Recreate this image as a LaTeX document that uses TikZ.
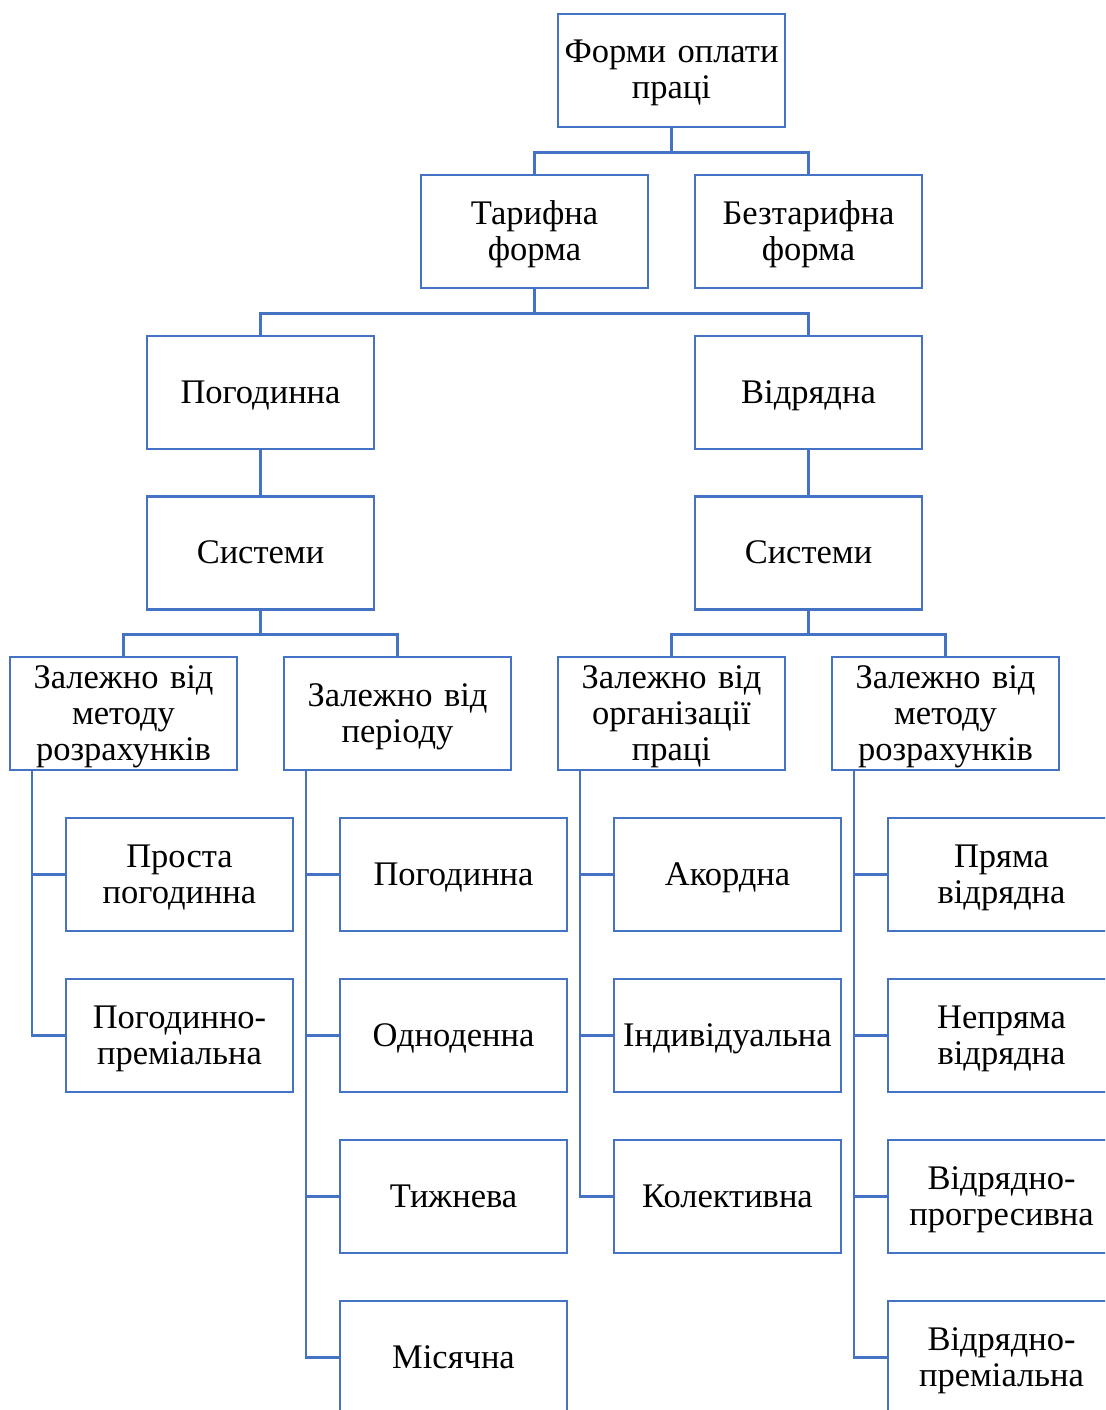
\documentclass[tikz,border=0pt]{standalone}
\usepackage{fontspec}
\setmainfont{Liberation Serif}
\definecolor{ob}{HTML}{4472C4}
\begin{document}
\begin{tikzpicture}[x=1pt,y=-1pt,
  box/.style={draw=ob, line width=2.5pt, fill=white, minimum width=227pt, minimum height=113pt,
    text width=225pt, align=center, inner sep=0pt, font=\fontsize{34.5}{36}\selectfont, text=black,
    execute at begin node={\rule{0pt}{28.75pt}},
    execute at end node={\rule[-7.75pt]{0pt}{0pt}}},
  conn/.style={draw=ob, line width=2.5pt}]
\useasboundingbox (0,0) rectangle (1105,1410);
\clip (0,0) rectangle (1105,1410);
% level 1-4
\node[box] (root) at (671.5,70.5) {Форми оплати\\праці};
\node[box] (tar) at (534.5,231.5) {Тарифна\\форма};
\node[box] (bez) at (808.5,231.5) {Безтарифна\\форма};
\node[box] (pog) at (260.5,392.5) {Погодинна};
\node[box] (vid) at (808.5,392.5) {Відрядна};
\node[box] (sys1) at (260.5,553) {Системи};
\node[box] (sys2) at (808.5,553) {Системи};
% level 5
\node[box] (z1) at (123.5,713.5) {Залежно від\\методу\\розрахунків};
\node[box] (z2) at (397.5,713.5) {Залежно від\\періоду};
\node[box] (z3) at (671.5,713.5) {Залежно від\\організації\\праці};
\node[box] (z4) at (945.5,713.5) {Залежно від\\методу\\розрахунків};
% children
\node[box] (a1) at (179.5,874.5) {Проста\\погодинна};
\node[box] (a2) at (179.5,1035.5) {Погодинно-\\преміальна};
\node[box] (b1) at (453.5,874.5) {Погодинна};
\node[box] (b2) at (453.5,1035.5) {Одноденна};
\node[box] (b3) at (453.5,1196.5) {Тижнева};
\node[box] (b4) at (453.5,1357.5) {Місячна};
\node[box] (c1) at (727.5,874.5) {Акордна};
\node[box] (c2) at (727.5,1035.5) {Індивідуальна};
\node[box] (c3) at (727.5,1196.5) {Колективна};
\node[box] (d1) at (1001.5,874.5) {Пряма\\відрядна};
\node[box] (d2) at (1001.5,1035.5) {Непряма\\відрядна};
\node[box] (d3) at (1001.5,1196.5) {Відрядно-\\прогресивна};
\node[box] (d4) at (1001.5,1357.5) {Відрядно-\\преміальна};
% connectors
\draw[conn] (root.south) -- ++(0,24) coordinate (j1);
\draw[conn] (j1) -| (tar.north);
\draw[conn] (j1) -| (bez.north);
\draw[conn] (tar.south) -- ++(0,24) coordinate (j2);
\draw[conn] (j2) -| (pog.north);
\draw[conn] (j2) -| (vid.north);
\draw[conn] (pog.south) -- (sys1.north);
\draw[conn] (vid.south) -- (sys2.north);
\draw[conn] (sys1.south) -- ++(0,23.5) coordinate (j3);
\draw[conn] (j3) -| (z1.north);
\draw[conn] (j3) -| (z2.north);
\draw[conn] (sys2.south) -- ++(0,23.5) coordinate (j4);
\draw[conn] (j4) -| (z3.north);
\draw[conn] (j4) -| (z4.north);
\foreach \p/\c in {z1/a1,z1/a2,z2/b1,z2/b2,z2/b3,z2/b4,z3/c1,z3/c2,z3/c3,z4/d1,z4/d2,z4/d3,z4/d4}
  \draw[conn] ([xshift=23pt]\p.south west) |- (\c.west);
\end{tikzpicture}
\end{document}
